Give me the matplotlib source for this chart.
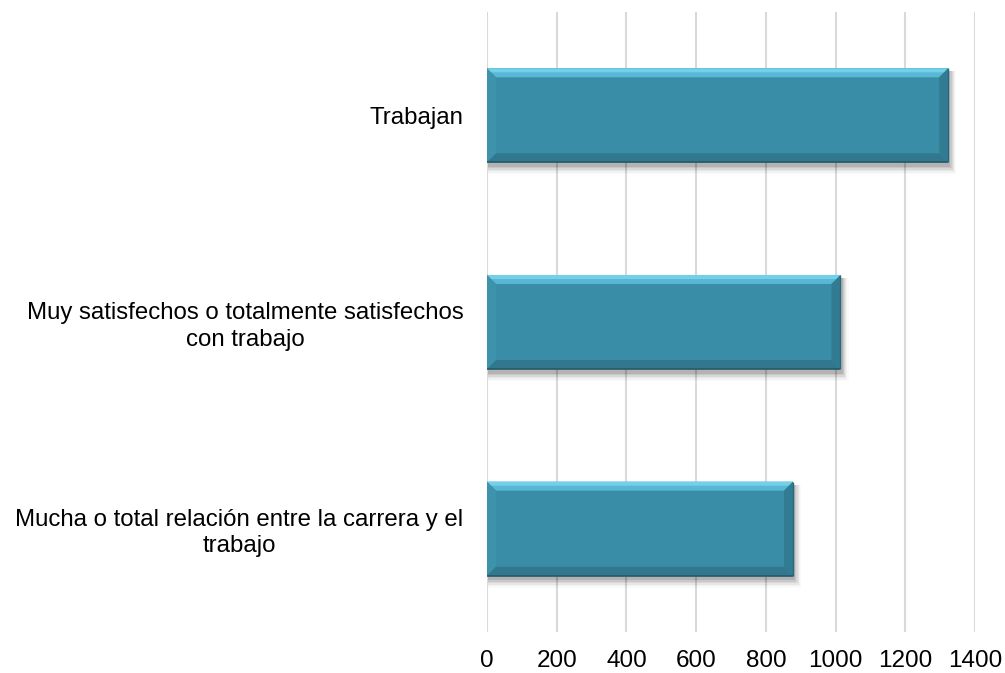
import matplotlib
matplotlib.use("Agg")
import matplotlib.pyplot as plt
from matplotlib.patches import Polygon, Rectangle
import numpy as np

categories = ["Trabajan",
              "Muy satisfechos o totalmente satisfechos\ncon trabajo",
              "Mucha o total relación entre la carrera y el\ntrabajo"]
values = [1323, 1014, 878]
xticks = [0, 200, 400, 600, 800, 1000, 1200, 1400]

plt.rcParams['font.family'] = ['Liberation Sans', 'DejaVu Sans']

W, H = 1005, 673
fig = plt.figure(figsize=(W / 100, H / 100), dpi=100)
left, right, top, bottom = 487, 975, 12, 632
ax = fig.add_axes([left / W, 1 - bottom / H, (right - left) / W, (bottom - top) / H])

face = "#3A8DA7"
bar_h = 0.455
ypos = np.arange(len(categories))
ax.set_xlim(0, 1400)
ax.set_ylim(len(categories) - 0.5, -0.5)

# pixel -> data conversions for bevel and shadow sizes
xpx = 1400 / (right - left)
ypx = 3 / (bottom - top)
bx, by = 9 * xpx, 9 * ypx

for y, v in zip(ypos, values):
    x0, x1 = 0, v
    y0, y1 = y - bar_h / 2, y + bar_h / 2
    # soft shadow
    for k, a in zip(range(1, 7), [0.10, 0.08, 0.06, 0.045, 0.03, 0.02]):
        ax.add_patch(Rectangle((x0 + 1 * xpx, y0 + 3 * ypx), (x1 - x0) + k * xpx * 1.2,
                               (y1 - y0) + k * ypx * 1.5, facecolor="black", alpha=a,
                               edgecolor="none", zorder=2))
    ax.barh(y, v, height=bar_h, color=face, edgecolor="none", zorder=3)
    # bevel: top (two-tone gradient)
    ax.add_patch(Polygon([(x0, y0), (x1, y0), (x1 - bx, y0 + by), (x0 + bx, y0 + by)],
                         closed=True, facecolor="#58B8D3", edgecolor="none", zorder=4))
    ax.add_patch(Polygon([(x0, y0), (x1, y0), (x1 - bx * 0.45, y0 + by * 0.45), (x0 + bx * 0.45, y0 + by * 0.45)],
                         closed=True, facecolor="#74CFE9", edgecolor="none", zorder=4))
    # left
    ax.add_patch(Polygon([(x0, y0), (x0 + bx, y0 + by), (x0 + bx, y1 - by), (x0, y1)],
                         closed=True, facecolor="#3E93AC", edgecolor="none", zorder=4))
    # right
    ax.add_patch(Polygon([(x1, y0), (x1 - bx, y0 + by), (x1 - bx, y1 - by), (x1, y1)],
                         closed=True, facecolor="#317C93", edgecolor="none", zorder=4))
    # bottom
    ax.add_patch(Polygon([(x0, y1), (x1, y1), (x1 - bx, y1 - by), (x0 + bx, y1 - by)],
                         closed=True, facecolor="#31778D", edgecolor="none", zorder=4))
    ax.plot([x0, x1], [y1, y1], color="#245A6B", lw=1.2, zorder=5, solid_capstyle="butt")
    ax.plot([x1, x1], [y0, y1], color="#2A687C", lw=1.0, zorder=5, solid_capstyle="butt")

ax.set_yticks(ypos)
ax.set_yticklabels(categories, fontsize=17.3, linespacing=1.25)
for lab in ax.get_yticklabels():
    lab.set_multialignment("center")
ax.set_xticks(xticks)
ax.set_xticklabels([str(t) for t in xticks], fontsize=17.5)
ax.tick_params(axis="y", length=0, pad=17)
ax.tick_params(axis="x", length=0, pad=13)
ax.xaxis.grid(True, color="#D9D9D9", lw=1.5, zorder=0)
ax.set_axisbelow(True)
for s in ax.spines.values():
    s.set_visible(False)

fig.savefig("out.png", dpi=100)
